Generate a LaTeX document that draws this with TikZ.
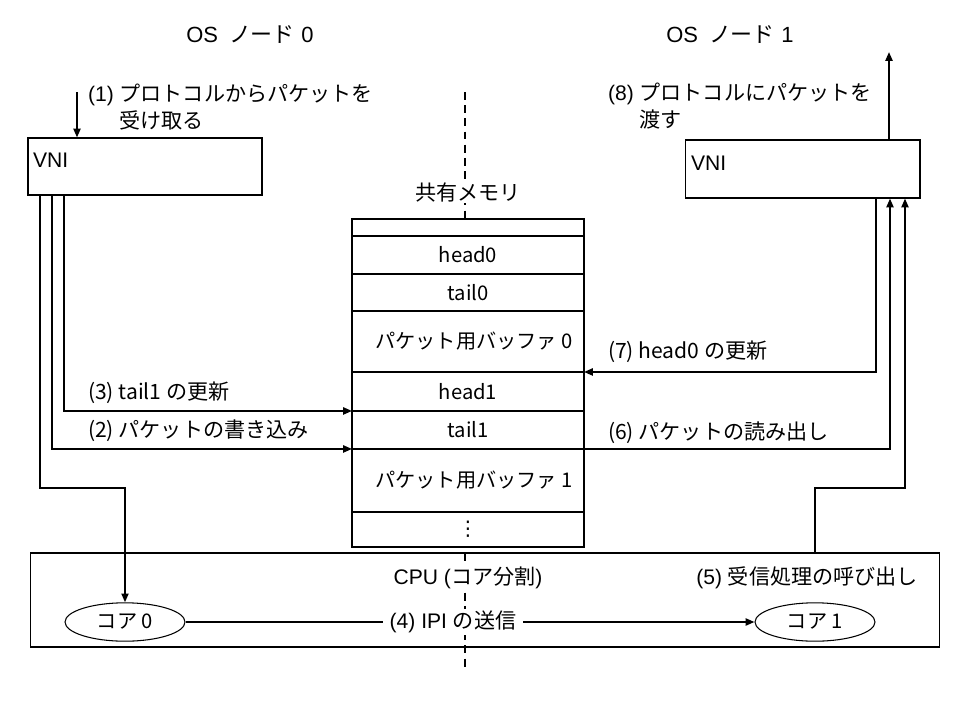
\documentclass[tikz,border=0pt]{standalone}
\usepackage{fontspec}
\setmainfont{Liberation Sans}
\newfontfamily\jp{Noto Sans CJK JP}
\newfontfamily\sym{DejaVu Sans}
\usetikzlibrary{arrows.meta,positioning,shapes.geometric}

\newcommand\sz{\fontsize{12}{15.3}\selectfont}
\newcommand\szc{\fontsize{11.5}{14}\selectfont}

\tikzset{
  box/.style={draw, line width=0.6pt, inner sep=0pt},
  cell/.style={draw, line width=0.7pt, fill=white, minimum width=4.64cm, inner sep=0pt, outer sep=0pt, font=\jp\szc},
  conn/.style={line width=1.1pt, -{Triangle[length=5pt,width=4pt]}},
  lbl/.style={inner sep=1pt, font=\sz},
  core/.style={draw, ellipse, line width=0.6pt, fill=white, minimum width=2.4cm, minimum height=0.72cm, font=\jp\szc},
  midline/.style={line width=1.1pt, dash pattern=on 4.5pt off 3pt},
}

\begin{document}
\begin{tikzpicture}[x=0.02cm, y=-0.02cm]
\useasboundingbox (0,0) rectangle (960,720);

% centre dashed line
\coordinate (d0) at (465,92);
\coordinate (d1) at (465,668);
\draw[midline] (d0) -- (d1);

% titles
\node[lbl, font=\fontsize{12.5}{15}\selectfont] (os0) at (250,35) {OS\hspace{0.5em}{\jp ノード}\hspace{0.3em}0};
\node[lbl, font=\fontsize{12.5}{15}\selectfont] (os1) at (730,35) {OS\hspace{0.5em}{\jp ノード}\hspace{0.3em}1};

% VNI
\node[box, minimum width=4.68cm, minimum height=1.14cm] (vni0) at (145,166.5) {};
\node[lbl, anchor=west] (vt0) at (31,160) {VNI};
\node[box, minimum width=4.7cm, minimum height=1.16cm] (vni1) at (802.5,169) {};
\node[lbl, anchor=west] (vt1) at (689,163) {VNI};

% shared memory
\node[lbl, fill=white] (shm) at (468,192) {\jp 共有メモリ};
\node[cell, minimum height=0.34cm] (m0) at (468,227.5) {};
\node[cell, minimum height=0.76cm, below=0pt of m0] (head0) {head0};
\node[cell, minimum height=0.74cm, below=0pt of head0] (tail0) {tail0};
\node[cell, minimum height=1.22cm, below=0pt of tail0] (buf0) {\hspace{0.6em}パケット用バッファ 0};
\node[cell, minimum height=0.78cm, below=0pt of buf0] (head1) {head1};
\node[cell, minimum height=0.76cm, below=0pt of head1] (tail1) {tail1};
\node[cell, minimum height=1.26cm, below=0pt of tail1] (buf1) {\hspace{0.6em}パケット用バッファ 1};
\node[cell, minimum height=0.70cm, below=0pt of buf1] (mdots) {{\sym ⋮}};

% CPU
\node[box, minimum width=18.2cm, minimum height=1.88cm] (cpu) at (485,600) {};
\node[lbl, fill=white] (cpulbl) at (468,578) {CPU ({\jp コア分割})};
\node[lbl] (rx) at (807,578) {(5) {\jp 受信処理の呼び出し}};
\node[core] (core0) at (125,622) {コア 0};
\node[core] (core1) at (815,622) {コア 1};

% connectors
\coordinate (in1) at (77,92);
\coordinate (c1) at (40,488);
\coordinate (c2) at (52,0);
\coordinate (c3) at (64,0);
\coordinate (r7) at (876,0);
\coordinate (r6) at (890,0);
\coordinate (k1) at (815,488);
\coordinate (r5) at (905,0);
\coordinate (out8) at (889,52);

\draw[conn] (in1) -- (vni0.north -| in1);
\draw[conn] (vni0.south -| c3) |- (tail1.north west);
\draw[conn] (vni0.south -| c2) |- (buf1.north west);
\draw[conn] (vni0.south -| c1) -- (c1) -| (core0.north);
\draw[conn] (vni1.south -| r7) |- (head1.north east);
\draw[conn] (buf1.north east) -| (vni1.south -| r6);
\draw[conn] (cpu.north -| k1) -- (k1) -| (vni1.south -| r5);
\draw[conn] (vni1.north -| out8) -- (out8);
\draw[conn] (core0) -- node[lbl, fill=white, pos=0.47, inner xsep=4pt] (ipi) {(4) IPI {\jp の送信}} (core1);

% labels
\node[lbl, anchor=west, align=left] (s1) at (86,108) {(1) {\jp プロトコルからパケットを}\\\phantom{(1) }{\jp 受け取る}};
\node[lbl, anchor=west, align=left] (s8) at (606,107) {(8) {\jp プロトコルにパケットを}\\\phantom{(8) }{\jp 渡す}};
\node[lbl, anchor=west] (s3) at (86,393) {\jp (3) tail1 の更新};
\node[lbl, anchor=west] (s2) at (86,431) {\jp (2) パケットの書き込み};
\node[lbl, anchor=west] (s7) at (606,352) {\jp (7) head0 の更新};
\node[lbl, anchor=west] (s6) at (606,433) {\jp (6) パケットの読み出し};
\end{tikzpicture}
\end{document}
